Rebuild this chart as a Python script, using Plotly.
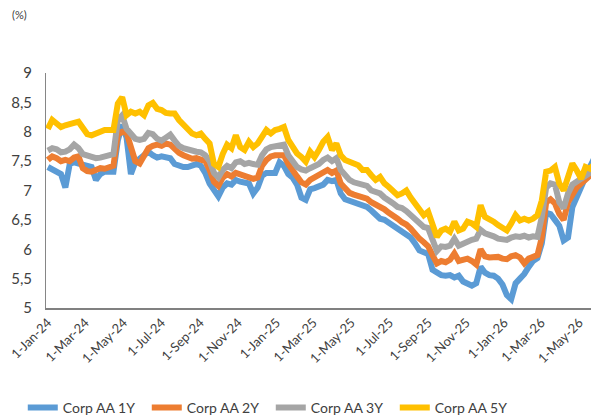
import plotly.graph_objects as go
import pandas as pd

# datas semanais (leitura do gráfico original)
DATAS = pd.date_range("2024-01-01", periods=126, freq="7D")

AA_1Y = [
    7.40, 7.35, 7.30, 7.28, 7.05, 7.45, 7.48, 7.46, 7.42, 7.40,
    7.40, 7.18, 7.28, 7.32, 7.33, 7.32, 7.85, 8.12, 7.90, 7.28,
    7.48, 7.55, 7.62, 7.66, 7.60, 7.56, 7.58, 7.56, 7.55, 7.45,
    7.42, 7.40, 7.40, 7.42, 7.45, 7.42, 7.30, 7.12, 7.00, 6.90,
    7.05, 7.12, 7.10, 7.18, 7.15, 7.14, 7.12, 6.95, 7.05, 7.25,
    7.30, 7.30, 7.30, 7.48, 7.42, 7.28, 7.22, 7.10, 6.88, 6.84,
    7.02, 7.04, 7.06, 7.10, 7.18, 7.16, 7.18, 6.95, 6.85, 6.82,
    6.80, 6.78, 6.75, 6.72, 6.66, 6.60, 6.52, 6.50, 6.45, 6.42,
    6.36, 6.32, 6.26, 6.20, 6.10, 5.98, 5.95, 5.92, 5.65, 5.60,
    5.56, 5.55, 5.56, 5.52, 5.55, 5.45, 5.40, 5.38, 5.42, 5.70,
    5.60, 5.56, 5.55, 5.50, 5.40, 5.22, 5.15, 5.42, 5.50, 5.58,
    5.70, 5.80, 5.85, 6.10, 6.62, 6.60, 6.50, 6.40, 6.15, 6.20,
    6.72, 6.90, 7.05, 7.20, 7.40, 7.55,
]

AA_2Y = [
    7.52, 7.58, 7.55, 7.50, 7.52, 7.50, 7.56, 7.58, 7.38, 7.33,
    7.32, 7.35, 7.38, 7.37, 7.40, 7.42, 7.95, 8.00, 7.98, 7.76,
    7.50, 7.46, 7.60, 7.72, 7.76, 7.78, 7.76, 7.80, 7.78, 7.70,
    7.64, 7.60, 7.56, 7.54, 7.55, 7.53, 7.50, 7.35, 7.15, 7.08,
    7.22, 7.28, 7.24, 7.30, 7.28, 7.25, 7.22, 7.20, 7.22, 7.42,
    7.52, 7.58, 7.60, 7.60, 7.60, 7.45, 7.32, 7.24, 7.14, 7.10,
    7.18, 7.22, 7.26, 7.32, 7.35, 7.30, 7.34, 7.12, 7.03, 6.96,
    6.93, 6.90, 6.88, 6.86, 6.80, 6.76, 6.74, 6.68, 6.62, 6.58,
    6.52, 6.46, 6.42, 6.35, 6.25, 6.18, 6.12, 6.05, 5.90, 5.76,
    5.80, 5.78, 5.82, 5.93, 5.80, 5.82, 5.84, 5.80, 5.74, 6.00,
    5.88, 5.86, 5.86, 5.87, 5.84, 5.83, 5.88, 5.90, 5.86, 5.76,
    5.84, 5.86, 5.90, 6.20, 6.80, 6.85, 6.78, 6.60, 6.50, 6.80,
    6.95, 7.05, 7.12, 7.18, 7.26, 7.32,
]

AA_3Y = [
    7.68, 7.72, 7.70, 7.65, 7.66, 7.70, 7.78, 7.72, 7.62, 7.60,
    7.57, 7.55, 7.56, 7.58, 7.60, 7.62, 8.20, 8.28, 8.05, 7.95,
    7.88, 7.86, 7.88, 7.98, 7.96, 7.88, 7.85, 7.90, 7.95, 7.85,
    7.76, 7.72, 7.70, 7.66, 7.66, 7.65, 7.60, 7.50, 7.30, 7.22,
    7.35, 7.42, 7.38, 7.48, 7.50, 7.45, 7.47, 7.45, 7.44, 7.60,
    7.70, 7.74, 7.76, 7.77, 7.78, 7.60, 7.50, 7.40, 7.36, 7.34,
    7.38, 7.42, 7.45, 7.52, 7.56, 7.50, 7.55, 7.35, 7.25, 7.18,
    7.14, 7.12, 7.10, 7.08, 7.00, 6.98, 6.95, 6.88, 6.84, 6.78,
    6.72, 6.70, 6.65, 6.58, 6.50, 6.45, 6.38, 6.36, 6.15, 5.97,
    6.05, 6.04, 6.06, 6.18, 6.06, 6.10, 6.13, 6.16, 6.18, 6.33,
    6.27, 6.25, 6.22, 6.18, 6.17, 6.16, 6.20, 6.22, 6.21, 6.23,
    6.20, 6.22, 6.21, 6.55, 7.05, 7.12, 7.10, 6.80, 6.70, 6.95,
    7.10, 7.15, 7.18, 7.22, 7.30, 7.36,
]

AA_5Y = [
    8.05, 8.20, 8.14, 8.08, 8.11, 8.14, 8.15, 8.17, 8.05, 7.96,
    7.94, 7.97, 7.98, 8.03, 8.03, 8.03, 8.48, 8.59, 8.28, 8.34,
    8.31, 8.34, 8.28, 8.45, 8.49, 8.39, 8.37, 8.32, 8.31, 8.31,
    8.20, 8.11, 8.03, 7.97, 7.94, 7.97, 7.88, 7.80, 7.45, 7.40,
    7.62, 7.78, 7.72, 7.94, 7.74, 7.69, 7.83, 7.74, 7.80, 7.91,
    8.03, 7.97, 8.03, 8.05, 8.08, 7.86, 7.74, 7.63, 7.57, 7.49,
    7.66, 7.57, 7.69, 7.83, 7.91, 7.69, 7.80, 7.60, 7.52, 7.49,
    7.46, 7.43, 7.35, 7.35, 7.26, 7.18, 7.23, 7.12, 7.06, 7.00,
    6.92, 6.95, 7.00, 6.88, 6.78, 6.66, 6.58, 6.64, 6.44, 6.21,
    6.32, 6.35, 6.30, 6.47, 6.32, 6.35, 6.47, 6.44, 6.38, 6.75,
    6.55, 6.52, 6.47, 6.41, 6.35, 6.32, 6.44, 6.58, 6.49, 6.52,
    6.49, 6.52, 6.58, 6.83, 7.32, 7.34, 7.40, 7.12, 7.00, 7.23,
    7.46, 7.34, 7.20, 7.40, 7.37, 7.45,
]

SERIES = {
    "Corp AA 1Y": (AA_1Y, "#5B9BD5"),
    "Corp AA 2Y": (AA_2Y, "#ED7D31"),
    "Corp AA 3Y": (AA_3Y, "#A5A5A5"),
    "Corp AA 5Y": (AA_5Y, "#FFC000"),
}

fig = go.Figure()
for nome, (valores, cor) in SERIES.items():
    fig.add_trace(go.Scatter(
        x=DATAS,
        y=valores,
        mode="lines",
        name=nome,
        line=dict(color=cor, width=6),
    ))

# a página HTML tem margem de 8px no body: figura 8px menor em cada lado
fig.update_layout(
    width=591,
    height=411,
    margin=dict(l=38, r=1, t=65, b=111),
    plot_bgcolor="white",
    paper_bgcolor="white",
    separators=", ",
    font=dict(family="Lato, Open Sans, sans-serif", size=13, color="#404040"),
    showlegend=True,
    legend=dict(
        orientation="h",
        x=0.025, xanchor="left", xref="container",
        y=0.027, yanchor="middle", yref="container",
        font=dict(size=14, color="#404040"),
        itemwidth=30,
        entrywidth=79,
    ),
    xaxis=dict(
        type="date",
        range=["2023-12-29", "2026-05-31"],
        tick0="2024-01-01",
        dtick="M2",
        tickformat="%-d-%b-%y",
        tickangle=-45,
        ticklabeloverflow="allow",
        showgrid=False,
        zeroline=False,
        showline=True,
        linecolor="#808080",
        linewidth=2,
        ticks="",
        automargin=False,
        tickfont=dict(size=13),
    ),
    yaxis=dict(
        range=[5, 9],
        dtick=0.5,
        showgrid=False,
        zeroline=False,
        showline=True,
        linecolor="#868686",
        linewidth=1,
        ticks="",
        automargin=False,
        ticklabelstandoff=10,
        tickfont=dict(size=15),
    ),
    annotations=[dict(
        text="(%)",
        xref="paper", yref="paper",
        x=-0.065, y=1.247,
        xanchor="left", yanchor="middle",
        showarrow=False,
        font=dict(size=11, color="#404040"),
    )],
)

fig.write_html("out.html")
